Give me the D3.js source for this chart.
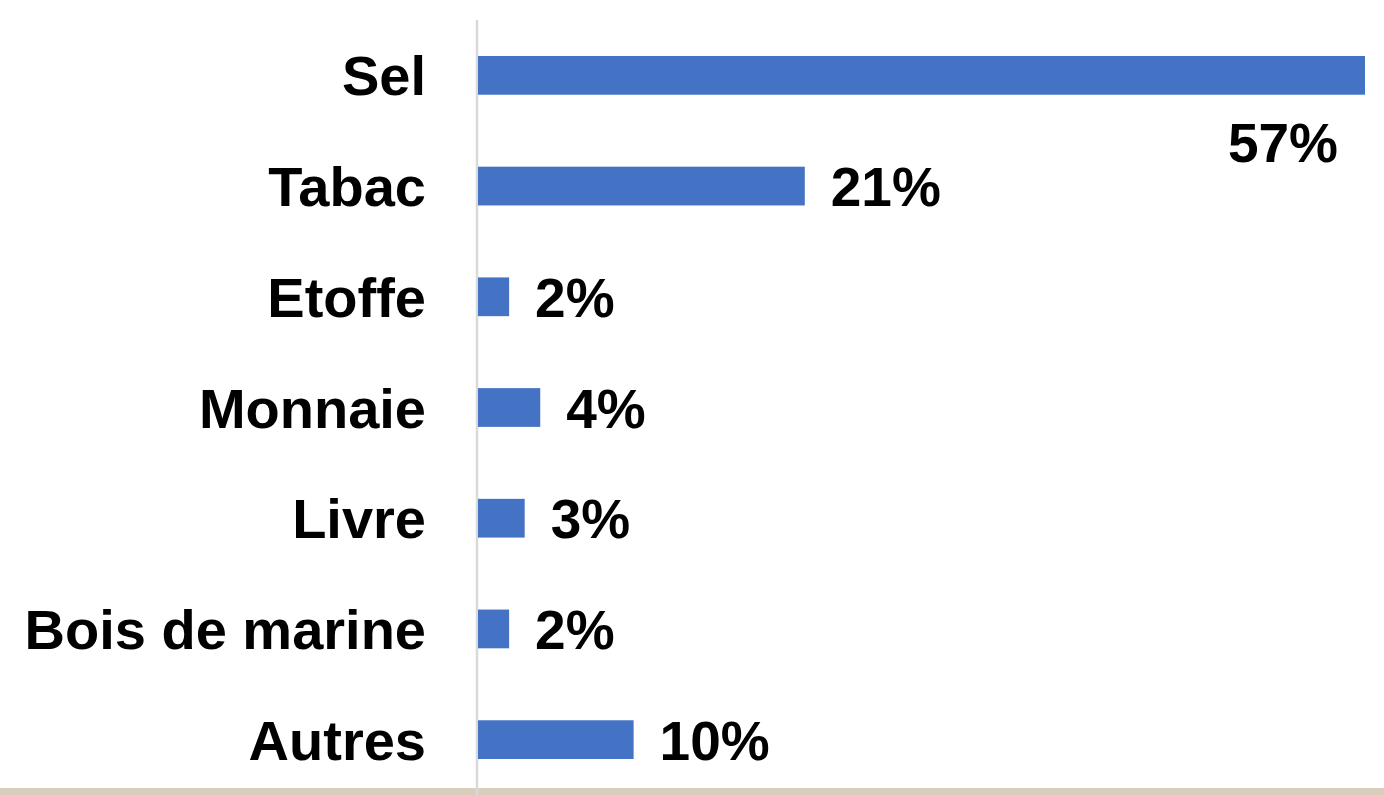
<!DOCTYPE html>
<html>
<head>
<meta charset="utf-8">
<script src="https://cdn.jsdelivr.net/npm/d3@7"></script>
<style>
  html, body { margin: 0; padding: 0; background: #ffffff; }
  svg { display: block; }
  text { font-family: "Liberation Sans", Arial, sans-serif; font-weight: bold; fill: #000; }
</style>
</head>
<body>
<svg id="chart" width="1384" height="795"></svg>
<script>
// Répartition des marchandises (en %)
const categories = ["Sel", "Tabac", "Etoffe", "Monnaie", "Livre", "Bois de marine", "Autres"];
const values = [57, 21, 2, 4, 3, 2, 10];
const valueLabels = ["57%", "21%", "2%", "4%", "3%", "2%", "10%"];

const W = 1384, H = 795;
const svg = d3.select("#chart");

const x0 = 478;
const x = d3.scaleLinear().domain([0, 57]).range([x0, 1365]);
const y = d3.scaleBand().domain(categories).range([20, 795])
  .paddingInner(0.65).paddingOuter(0.325);

const fontSize = 55;
const capHalf = 20;

// bande décorative en bas de page
svg.append("rect")
  .attr("x", 0).attr("y", 788).attr("width", W).attr("height", H - 788)
  .attr("fill", "#d9cdbd");

// axe vertical
svg.append("line")
  .attr("x1", x0 - 1).attr("x2", x0 - 1)
  .attr("y1", 20).attr("y2", H)
  .attr("stroke", "#d9d9d9").attr("stroke-width", 2.5);

// barres
svg.selectAll("rect.bar")
  .data(values)
  .join("rect")
  .attr("class", "bar")
  .attr("x", x0)
  .attr("y", (d, i) => y(categories[i]))
  .attr("width", d => x(d) - x0)
  .attr("height", y.bandwidth())
  .attr("fill", "#4472c4");

// libellés des catégories
svg.selectAll("text.cat")
  .data(categories)
  .join("text")
  .attr("class", "cat")
  .attr("x", 426)
  .attr("y", d => y(d) + y.bandwidth() / 2 + capHalf)
  .attr("text-anchor", "end")
  .attr("font-size", 56)
  .text(d => d);

// étiquettes de valeur : à droite de la barre, ou sous la barre si la place manque
svg.selectAll("text.val")
  .data(values)
  .join("text")
  .attr("class", "val")
  .attr("font-size", fontSize)
  .each(function (d, i) {
    const t = d3.select(this).text(valueLabels[i]);
    const cy = y(categories[i]) + y.bandwidth() / 2;
    const end = x(d);
    if (end + 28 + 110 > W) {
      t.attr("x", 1338).attr("y", cy + 67 + capHalf).attr("text-anchor", "end");
    } else {
      t.attr("x", end + 26).attr("y", cy + capHalf).attr("text-anchor", "start");
    }
  });
</script>
</body>
</html>
